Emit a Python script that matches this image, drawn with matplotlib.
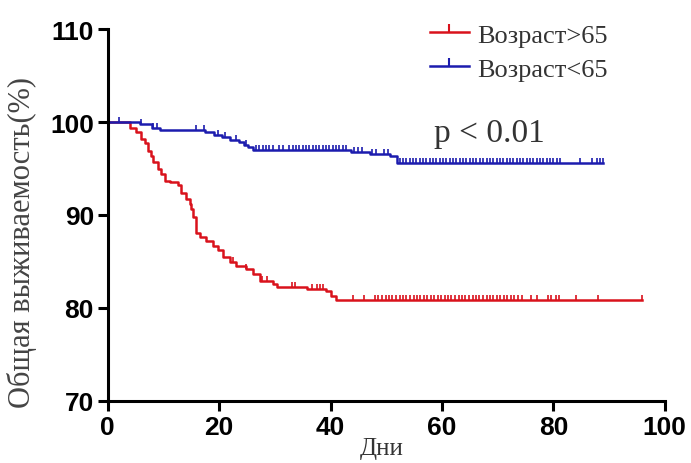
import matplotlib
matplotlib.use('Agg')
import matplotlib.pyplot as plt

# Kaplan-Meier Stufen: Zeitpunkte (Tage) und Überleben (%)
alt_t = [0, 3.9, 5.1, 6.0, 6.6, 7.2, 7.8, 8.1, 9.0, 9.6, 10.2, 11.1, 12.6, 13.2, 14.1,
         14.7, 15.0, 15.3, 15.9, 16.5, 17.7, 18.9, 19.8, 20.7, 21.9, 23.1, 24.9, 26.1,
         27.3, 29.7, 30.3, 35.7, 39.2, 40.1, 41.0, 96.0]
alt_s = [100, 99.4, 98.9, 98.2, 97.8, 96.9, 96.4, 95.7, 94.9, 94.4, 93.7, 93.5, 93.2, 92.4,
         91.7, 91.2, 90.6, 89.8, 88.1, 87.6, 87.2, 86.7, 86.2, 85.5, 84.9, 84.5, 84.2, 83.7,
         82.9, 82.6, 82.3, 82.0, 81.8, 81.3, 80.8, 80.8]

jung_t = [0, 5.7, 8.0, 9.3, 15.9, 17.5, 19.0, 20.5, 22.0, 23.5, 24.5, 25.2, 26.1,
          43.6, 47.0, 50.6, 51.9, 89.0]
jung_s = [100, 99.8, 99.4, 99.2, 99.1, 98.9, 98.6, 98.4, 98.1, 97.9, 97.5, 97.3, 97.0,
          96.8, 96.6, 96.3, 95.6, 95.6]

# zensierte Fälle
alt_c = [22.5, 24.9, 27.6, 28.5, 33.0, 33.6, 36.6, 37.5, 38.1, 38.7, 44.0, 46.0,
         48.0, 48.6, 49.3, 49.9, 50.5, 51.1, 51.8, 52.4, 53.0, 53.6, 54.2, 54.9, 55.5,
         56.1, 56.7, 57.4, 58.0, 58.6, 59.2, 59.9, 60.5, 61.1, 61.7, 62.4, 63.0, 63.6,
         64.2, 64.8, 65.5, 66.1, 66.7, 67.3, 68.0, 68.6, 69.2, 69.8, 70.5, 71.1, 71.7,
         72.4, 73.0, 73.6, 74.3, 76.0, 77.0, 79.0, 79.6, 80.4, 81.0, 84.0, 88.0, 96.0]
jung_c = [2.0, 6.0, 8.1, 8.8, 15.9, 17.2, 19.8, 21.1, 23.0, 24.8,
          26.6, 27.2, 27.8, 28.4, 29.0, 29.6, 30.8, 31.4, 32.6, 33.2, 33.8, 34.4, 35.0,
          35.6, 36.2, 36.8, 37.4, 38.0, 38.6, 39.2, 39.8, 40.4, 41.0, 41.6, 42.2, 42.8,
          44.2, 45.0, 45.6, 47.4, 48.2, 49.6, 50.4,
          52.4, 53.0, 53.6, 54.2, 54.8, 55.4, 56.0, 56.6, 57.2, 57.8, 58.4, 59.0, 59.6,
          60.2, 60.8, 61.4, 62.0, 62.6, 63.2, 63.8, 64.4, 65.0, 65.6, 66.2, 66.8, 67.4,
          68.0, 68.6, 69.2, 69.8, 70.4, 71.0, 71.6, 72.2, 72.8, 73.4, 74.0, 74.6, 75.2,
          75.8, 76.4, 77.0, 77.6, 78.2, 78.8, 79.4, 80.0, 80.6, 81.2, 84.7, 86.9, 87.8,
          88.3, 88.9]

rot = '#d9121c'
blau = '#1c1cae'


def stufe(t, zeiten, werte):
    s = werte[0]
    for zt, w in zip(zeiten, werte):
        if zt <= t:
            s = w
    return s


fig = plt.figure(figsize=(6.91, 4.64), dpi=100)
ax = fig.add_axes([0.156, 0.134, 0.806, 0.801])

ax.step(alt_t, alt_s, where='post', color=rot, lw=1.8)
ax.step(jung_t, jung_s, where='post', color=blau, lw=1.8)
ax.plot(alt_c, [stufe(c, alt_t, alt_s) for c in alt_c], ls='none', marker=2,
        color=rot, ms=3.5, mew=1.2)
ax.plot(jung_c, [stufe(c, jung_t, jung_s) for c in jung_c], ls='none', marker=2,
        color=blau, ms=3.5, mew=1.2)

# Legende mit Markierung
h1, = ax.plot([], [], color=rot, lw=1.8, marker=2, ms=6, mew=1.5)
h2, = ax.plot([], [], color=blau, lw=1.8, marker=2, ms=6, mew=1.5)
ax.legend([h1, h2], ['Возраст>65', 'Возраст<65'], loc='upper left',
          bbox_to_anchor=(0.535, 1.08), frameon=False, handlelength=1.5,
          handletextpad=0.3, labelspacing=0.4,
          prop={'family': 'Liberation Serif', 'size': 19}, labelcolor='#333333')

ax.text(58.5, 98.0, 'p < 0.01', family='Liberation Serif', fontsize=24,
        color='#333333', va='baseline')

ax.set_xlim(0, 100)
ax.set_ylim(70, 110)
ax.set_xticks([0, 20, 40, 60, 80, 100])
ax.set_yticks([70, 80, 90, 100, 110])
for lab in ax.get_xticklabels() + ax.get_yticklabels():
    lab.set_family('Liberation Sans')
    lab.set_fontweight('bold')
    lab.set_fontsize(19)
ax.spines['top'].set_visible(False)
ax.spines['right'].set_visible(False)
ax.spines['left'].set_linewidth(2.2)
ax.spines['bottom'].set_linewidth(2.2)
ax.tick_params(width=2.2, length=7, pad=3)

ax.set_ylabel('Общая выживаемость(%)', family='Liberation Serif', fontsize=22,
              color='#444444')
ax.yaxis.set_label_coords(-0.128, 0.43)
ax.set_xlabel('Дни', family='Liberation Serif', fontsize=18, color='#333333')
ax.xaxis.set_label_coords(0.492, -0.098)

plt.savefig('out.png', dpi=100)
